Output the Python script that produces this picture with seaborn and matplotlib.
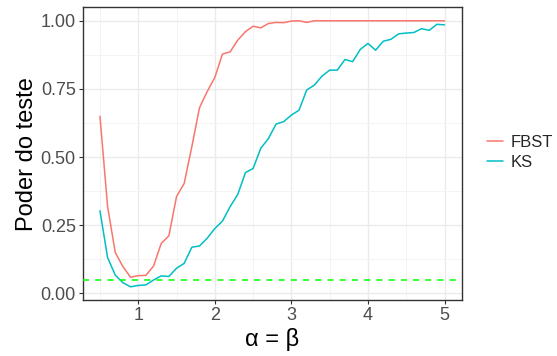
import numpy as np
import pandas as pd
import matplotlib
matplotlib.use("Agg")
import matplotlib.pyplot as plt
import seaborn as sns
from matplotlib.lines import Line2D
from matplotlib.ticker import MultipleLocator

alpha_beta = [round(0.5 + 0.1 * i, 1) for i in range(46)]

fbst = [0.650, 0.318, 0.150, 0.098, 0.059, 0.065, 0.066, 0.100, 0.183, 0.211,
        0.355, 0.403, 0.538, 0.681, 0.740, 0.792, 0.878, 0.886, 0.929, 0.960,
        0.980, 0.974, 0.990, 0.994, 0.993, 0.999, 1.000, 0.994, 1.000, 1.000,
        1.000, 1.000, 1.000, 1.000, 1.000, 1.000, 1.000, 1.000, 1.000, 1.000,
        1.000, 1.000, 1.000, 1.000, 1.000, 1.000]

ks = [0.303, 0.131, 0.067, 0.039, 0.024, 0.029, 0.031, 0.049, 0.064, 0.062,
      0.092, 0.110, 0.169, 0.174, 0.202, 0.238, 0.265, 0.318, 0.363, 0.443,
      0.458, 0.532, 0.568, 0.621, 0.630, 0.654, 0.672, 0.746, 0.764, 0.797,
      0.819, 0.819, 0.858, 0.850, 0.895, 0.917, 0.892, 0.925, 0.932, 0.952,
      0.955, 0.957, 0.971, 0.965, 0.987, 0.985]

series_names = ["FBST", "KS"]
series_colors = ["#F8766D", "#00BFC4"]
nominal_level = 0.05

x_ticks = [1, 2, 3, 4, 5]
y_ticks = [0.0, 0.25, 0.5, 0.75, 1.0]
y_tick_labels = ["0.00", "0.25", "0.50", "0.75", "1.00"]

df = pd.DataFrame({
    "x": alpha_beta * 2,
    "poder": fbst + ks,
    "teste": [series_names[0]] * len(fbst) + [series_names[1]] * len(ks),
})

sns.set_theme(style="white")
plt.rcParams["font.family"] = ["Liberation Sans", "DejaVu Sans"]

fig = plt.figure(figsize=(5.57, 3.56), dpi=100)
ax = fig.add_axes([0.1485, 0.157, 0.829 - 0.1485, 0.979 - 0.157])

sns.lineplot(data=df, x="x", y="poder", hue="teste", palette=series_colors,
             hue_order=series_names, linewidth=1.1, ax=ax, legend=False)
ax.axhline(nominal_level, color="#00FF00", linestyle=(0, (4, 4)), linewidth=1.1, zorder=3)

xmin, xmax = min(alpha_beta), max(alpha_beta)
xr = xmax - xmin
ax.set_xlim(xmin - 0.05 * xr, xmax + 0.05 * xr)
ymin = min(min(fbst), min(ks), nominal_level)
ymax = max(max(fbst), max(ks))
yr = ymax - ymin
ax.set_ylim(ymin - 0.05 * yr, ymax + 0.05 * yr)

ax.set_xticks(x_ticks)
ax.set_xticklabels([str(t) for t in x_ticks])
ax.set_yticks(y_ticks)
ax.set_yticklabels(y_tick_labels)
ax.xaxis.set_minor_locator(MultipleLocator(0.5))
ax.yaxis.set_minor_locator(MultipleLocator(0.125))

ax.grid(True, which="major", color="#EBEBEB", linewidth=1.0)
ax.grid(True, which="minor", color="#F3F3F3", linewidth=0.6)
ax.set_axisbelow(True)
for s in ax.spines.values():
    s.set_color("#333333")
    s.set_linewidth(1.0)

ax.tick_params(axis="both", which="major", length=3, width=0.8, color="#333333",
               labelsize=13, labelcolor="#4D4D4D", pad=2, bottom=True, left=True)
ax.tick_params(axis="both", which="minor", length=0)

ax.set_xlabel("α = β", fontsize=17, color="black", labelpad=3)
ax.set_ylabel("Poder do teste", fontsize=17, color="black", labelpad=2)

handles = [Line2D([0], [0], color=c, linewidth=1.1) for c in series_colors]
fig.legend(handles, series_names, loc="center left", bbox_to_anchor=(0.874, 0.572),
           frameon=False, fontsize=12, handlelength=1.0, handletextpad=0.4,
           labelspacing=0.3, borderpad=0, borderaxespad=0)

fig.savefig("out.png", dpi=100)
